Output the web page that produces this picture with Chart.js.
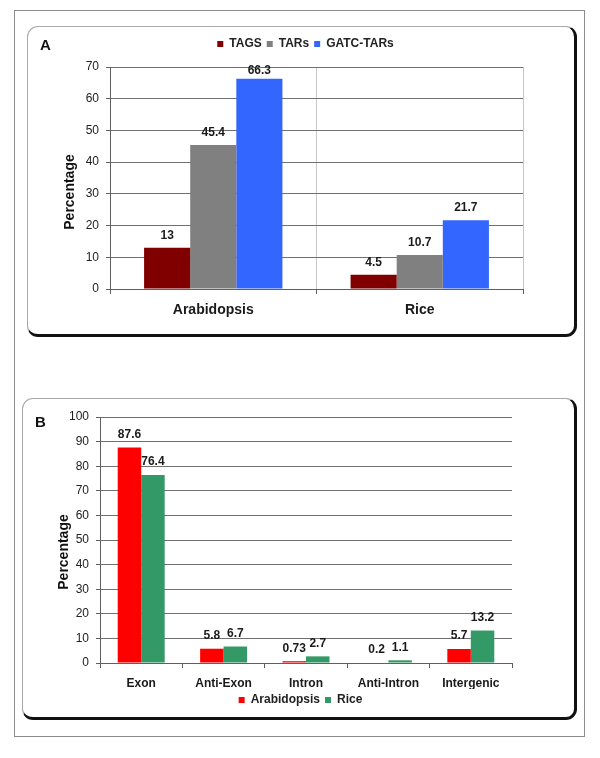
<!DOCTYPE html>
<html>
<head>
<meta charset="utf-8">
<script src="https://cdn.jsdelivr.net/npm/chart.js@4.4.1/dist/chart.umd.min.js"></script>
<style>
  body { margin: 0; background: #fff; font-family: 'Liberation Sans', Arial, sans-serif; }
  .frame { position: absolute; left: 14px; top: 10px; width: 571px; height: 727px; box-sizing: border-box; border: 1px solid #8c8c8c; }
  .panel { position: absolute; box-sizing: border-box; border-left: 1px solid #a8a8a8; border-top: 1px solid #a8a8a8;
           border-right: 3px solid #111; border-bottom: 3px solid #111; border-radius: 11px; }
  #panelA { left: 27px; top: 26px; width: 550px; height: 311px; }
  #panelB { left: 22px; top: 398px; width: 555px; height: 322px; }
  canvas { position: absolute; }
  #chartA { left: 28px; top: 27px; }
  #chartB { left: 23px; top: 399px; }
  .tag { position: absolute; font-weight: bold; font-size: 15px; color: #111; line-height: 16px; }
  .ytitle { position: absolute; font-weight: bold; font-size: 14px; color: #111; white-space: nowrap; line-height: 16px;
            transform: translate(-50%, -50%) rotate(-90deg); }
</style>
</head>
<body>
<div class="frame"></div>
<div class="panel" id="panelA"></div>
<div class="panel" id="panelB"></div>
<canvas id="chartA" width="546" height="307"></canvas>
<canvas id="chartB" width="551" height="318"></canvas>
<div class="tag" style="left:40px; top:37px;">A</div>
<div class="tag" style="left:35px; top:414px;">B</div>
<div class="ytitle" style="left:69px; top:192px;">Percentage</div>
<div class="ytitle" style="left:63px; top:552px;">Percentage</div>

<script>
// Panel A data
const speciesA = ['Arabidopsis', 'Rice'];
const tagsA = [13, 4.5];
const tarsA = [45.4, 10.7];
const gatcTarsA = [66.3, 21.7];
const yMaxA = 70;

// Panel B data
const regionsB = ['Exon', 'Anti-Exon', 'Intron', 'Anti-Intron', 'Intergenic'];
const arabidopsisB = [87.6, 5.8, 0.73, 0.2, 5.7];
const riceB = [76.4, 6.7, 2.7, 1.1, 13.2];
const yMaxB = 100;

const yStep = 10;
const FONT = "'Liberation Sans', Arial, sans-serif";
const AXIS = '#606060';

// value labels above each bar
const valueLabels = {
  id: 'valueLabels',
  afterDatasetsDraw(chart, args, opts) {
    const { ctx, chartArea } = chart;
    ctx.save();
    ctx.font = 'bold 12px ' + FONT;
    ctx.fillStyle = '#1a1a1a';
    ctx.textAlign = 'center';
    ctx.textBaseline = 'middle';
    chart.data.datasets.forEach((ds, i) => {
      chart.getDatasetMeta(i).data.forEach((bar, j) => {
        const y = Math.max(bar.y - opts.gap, chartArea.top + 4);
        ctx.fillText(String(ds.data[j]), bar.x, y);
      });
    });
    ctx.restore();
  }
};

// fixed legend height, and a sideways nudge so it sits where the original has it
const legendBox = {
  id: 'legendBox',
  beforeInit(chart, args, opts) {
    const fit = chart.legend.fit;
    chart.legend.fit = function () {
      fit.call(this);
      this.height = opts.height;
    };
  },
  afterLayout(chart, args, opts) {
    chart.legend.left += opts.shift;
    chart.legend.right += opts.shift;
  }
};

function legendOpts(position) {
  return {
    position: position,
    labels: { boxWidth: 6, boxHeight: 6, padding: 5, color: '#222', font: { family: FONT, size: 12, weight: 'bold' } }
  };
}

function yAxis(max, width) {
  return {
    min: 0, max: max,
    ticks: { stepSize: yStep, padding: 7, color: '#222', font: { family: FONT, size: 12 } },
    grid: { color: '#707070', tickColor: AXIS, tickLength: 4 },
    border: { color: AXIS },
    afterFit(scale) { scale.width = width; }
  };
}

new Chart(document.getElementById('chartA'), {
  type: 'bar',
  data: {
    labels: speciesA,
    datasets: [
      { label: 'TAGS', data: tagsA, backgroundColor: '#800000' },
      { label: 'TARs', data: tarsA, backgroundColor: '#808080' },
      { label: 'GATC-TARs', data: gatcTarsA, backgroundColor: '#3366ff' }
    ]
  },
  options: {
    responsive: false,
    animation: false,
    layout: { padding: { left: 20, right: 51, top: 6, bottom: 0 } },
    datasets: { bar: { categoryPercentage: 0.67, barPercentage: 1 } },
    scales: {
      x: {
        ticks: { padding: 8, color: '#1a1a1a', maxRotation: 0, font: { family: FONT, size: 14, weight: 'bold' } },
        grid: { offset: true, color: c => c.index === 0 ? 'rgba(0,0,0,0)' : '#c8c8c8', tickColor: AXIS, tickLength: 5 },
        border: { color: AXIS },
        afterFit(scale) { scale.height = 45; }
      },
      y: yAxis(yMaxA, 62)
    },
    plugins: {
      legend: legendOpts('top'),
      legendBox: { height: 34, shift: 20 },
      valueLabels: { gap: 12 },
      tooltip: { enabled: false }
    }
  },
  plugins: [valueLabels, legendBox]
});

new Chart(document.getElementById('chartB'), {
  type: 'bar',
  data: {
    labels: regionsB,
    datasets: [
      { label: 'Arabidopsis', data: arabidopsisB, backgroundColor: '#ff0000' },
      { label: 'Rice', data: riceB, backgroundColor: '#339966' }
    ]
  },
  options: {
    responsive: false,
    animation: false,
    layout: { padding: { left: 20, right: 62, top: 18, bottom: 0 } },
    datasets: { bar: { categoryPercentage: 0.57, barPercentage: 1 } },
    scales: {
      x: {
        ticks: { padding: 8, color: '#1a1a1a', maxRotation: 0, font: { family: FONT, size: 12, weight: 'bold' } },
        grid: {
          offset: true,
          color: c => c.index === regionsB.length ? '#c0c0c0' : 'rgba(0,0,0,0)',
          tickColor: AXIS, tickLength: 5
        },
        border: { color: AXIS },
        afterFit(scale) { scale.height = 26; }
      },
      y: yAxis(yMaxB, 57)
    },
    plugins: {
      legend: legendOpts('bottom'),
      legendBox: { height: 28, shift: 23 },
      valueLabels: { gap: 13 },
      tooltip: { enabled: false }
    }
  },
  plugins: [valueLabels, legendBox]
});
</script>
</body>
</html>
